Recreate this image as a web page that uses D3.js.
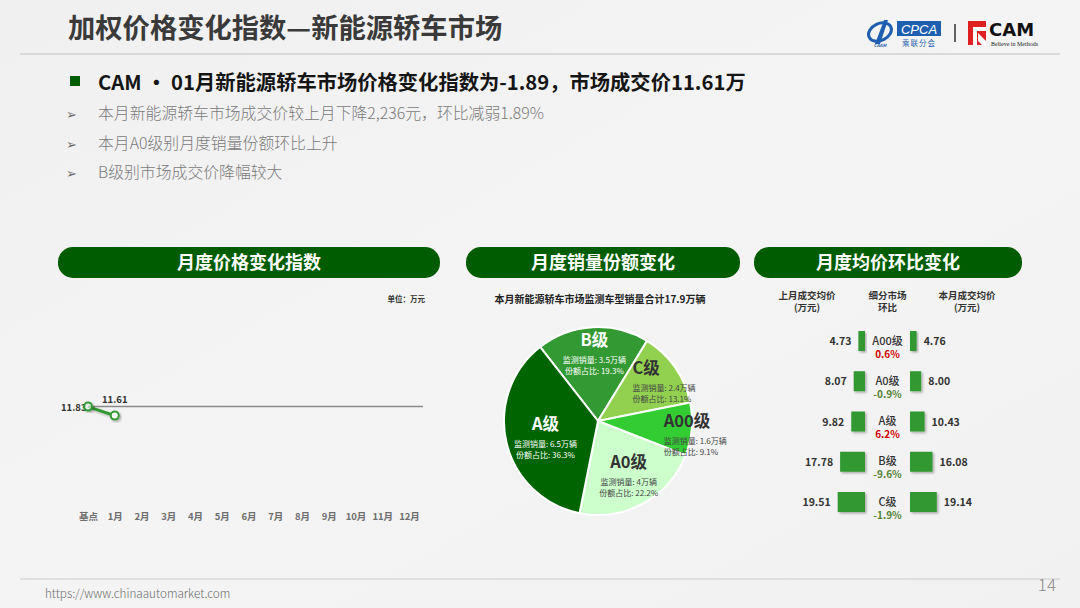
<!DOCTYPE html>
<html>
<head>
<meta charset="utf-8">
<script src="https://cdn.jsdelivr.net/npm/d3@7"></script>
<style>
  body { margin: 0; background: #f2f2f2; }
  svg { display: block; font-family: "Noto Sans CJK SC", "Noto Sans", sans-serif; }
</style>
</head>
<body>
<svg id="chart"></svg>
<script>
// ---- data ----
const months = ['基点', '1月', '2月', '3月', '4月', '5月', '6月', '7月', '8月', '9月', '10月', '11月', '12月']
const priceIndex = [11.83, 11.61]

const pieCats = ['B级', 'C级', 'A00级', 'A0级', 'A级']
const pieSales = [3.5, 2.4, 1.6, 4, 6.5]
const pieShares = [19.3, 13.1, 9.1, 22.2, 36.3]
const pieTotal = 17.9

const segCats = ['A00级', 'A0级', 'A级', 'B级', 'C级']
const lastPrice = [4.73, 8.07, 9.82, 17.78, 19.51]
const thisPrice = [4.76, 8.00, 10.43, 16.08, 19.14]
const momChange = [0.6, -0.9, 6.2, -9.6, -1.9]

const bullets = [
    '本月新能源轿车市场成交价较上月下降2,236元，环比减弱1.89%',
    '本月A0级别月度销量份额环比上升',
    'B级别市场成交价降幅较大'
]

const w = 1080
const h = 608
const green = '#339933'
const darkGreen = '#005c00'

let svg = d3.select('#chart').attr('width', w).attr('height', h)

let defs = svg.append('defs')
defs.append('filter').attr('id', 'shadow')
    .attr('x', '-30%').attr('y', '-30%').attr('width', '160%').attr('height', '160%')
    .append('feDropShadow')
    .attr('dx', 1.5).attr('dy', 1.5).attr('stdDeviation', 1)
    .attr('flood-color', '#000').attr('flood-opacity', 0.3)

let bg = defs.append('linearGradient').attr('id', 'bg')
    .attr('x1', 0).attr('y1', 0).attr('x2', 1).attr('y2', 1)
bg.append('stop').attr('offset', '0%').attr('stop-color', '#f0f0f0')
bg.append('stop').attr('offset', '50%').attr('stop-color', '#f4f4f4')
bg.append('stop').attr('offset', '100%').attr('stop-color', '#f1f1f1')

svg.append('rect').attr('width', w).attr('height', h).attr('fill', 'url(#bg)')

// ---- header ----
let drawHeader = () => {
    svg.append('text')
       .attr('x', 68).attr('y', 38)
       .attr('font-size', 27.3).attr('font-weight', 700).attr('fill', '#3a3a3a')
       .text('加权价格变化指数—新能源轿车市场')

    svg.append('line')
       .attr('x1', 20).attr('x2', 1060).attr('y1', 54).attr('y2', 54)
       .attr('stroke', '#d0d0d0').attr('stroke-width', 1.5)

    // CPCA logo
    let cpca = svg.append('g')
    cpca.append('ellipse').attr('cx', 880).attr('cy', 32).attr('rx', 12).attr('ry', 8.5)
        .attr('fill', 'none').attr('stroke', '#1f5fb0').attr('stroke-width', 3)
        .attr('transform', 'rotate(-25 880 32)')
    cpca.append('path').attr('d', 'M875,44 L884,20 L888,20 L880,44 Z').attr('fill', '#1f5fb0')
    cpca.append('text').attr('x', 880).attr('y', 47).attr('text-anchor', 'middle')
        .attr('font-size', 4.5).attr('font-style', 'italic').attr('font-weight', 700).attr('fill', '#1f5fb0').text('CAAM')
    cpca.append('rect').attr('x', 897).attr('y', 21).attr('width', 44).attr('height', 15).attr('fill', '#1f5fb0')
    cpca.append('text').attr('x', 919).attr('y', 33.5).attr('text-anchor', 'middle')
        .attr('font-family', 'Liberation Sans').attr('font-style', 'italic')
        .attr('font-size', 13).attr('fill', '#fff').text('CPCA')
    cpca.append('text').attr('x', 919).attr('y', 46).attr('text-anchor', 'middle')
        .attr('font-size', 7.5).attr('fill', '#1f5fb0').attr('letter-spacing', 1).text('乘联分会')

    svg.append('line').attr('x1', 955).attr('x2', 955).attr('y1', 24).attr('y2', 42)
       .attr('stroke', '#333').attr('stroke-width', 1.5)

    // CAM logo
    let cam = svg.append('g')
    cam.append('rect').attr('x', 968).attr('y', 21).attr('width', 18).attr('height', 24).attr('fill', '#e02020')
    cam.append('path').attr('d', 'M973,27 L986,27 L986,31 L977,31 L977,45 L973,45 Z').attr('fill', '#fff')
    cam.append('path').attr('d', 'M978,33 L986,41 L986,45 L982,45 L978,41 Z').attr('fill', '#fff')
    cam.append('text').attr('x', 989).attr('y', 36).attr('font-family', 'DejaVu Sans')
       .attr('font-weight', 700).attr('font-size', 18).attr('fill', '#111').text('CAM')
    cam.append('text').attr('x', 991).attr('y', 46).attr('font-family', 'Liberation Serif')
       .attr('font-size', 6).attr('fill', '#222').text('Believe in Methods')

    // headline
    svg.append('rect').attr('x', 70).attr('y', 76).attr('width', 10).attr('height', 10).attr('fill', darkGreen)
    svg.append('text')
       .attr('x', 98).attr('y', 90)
       .attr('font-size', 20.3).attr('font-weight', 700).attr('fill', '#151515')
       .text('CAM • 01月新能源轿车市场价格变化指数为-1.89，市场成交价11.61万')

    svg.selectAll('.bullet')
       .data(bullets)
       .enter()
       .append('g')
       .attr('class', 'bullet')
       .each(function(item, index) {
           let g = d3.select(this)
           let y = 119 + index * 29.5
           g.append('text').attr('x', 66).attr('y', y)
            .attr('font-family', 'DejaVu Sans').attr('font-size', 13).attr('fill', '#6a6a6a').text('➢')
           g.append('text').attr('x', 98).attr('y', y)
            .attr('font-size', 15.85).attr('font-weight', 300).attr('fill', '#7a7a7a').text(item)
       })

    // section pills
    let pills = [
        { x: 58, x2: 440, t: '月度价格变化指数' },
        { x: 466, x2: 740, t: '月度销量份额变化' },
        { x: 754, x2: 1022, t: '月度均价环比变化' }
    ]
    svg.selectAll('.pill')
       .data(pills)
       .enter()
       .append('g')
       .attr('class', 'pill')
       .each(function(p) {
           let g = d3.select(this)
           g.append('rect').attr('x', p.x).attr('y', 247).attr('width', p.x2 - p.x).attr('height', 31)
            .attr('rx', 15).attr('fill', darkGreen)
           g.append('text').attr('x', (p.x + p.x2) / 2).attr('y', 269).attr('text-anchor', 'middle')
            .attr('font-size', 18).attr('font-weight', 700).attr('fill', '#fff').text(p.t)
       })

    // footer
    svg.append('line').attr('x1', 20).attr('x2', 1060).attr('y1', 579).attr('y2', 579)
       .attr('stroke', '#d8d8d8').attr('stroke-width', 1.5)
    svg.append('text').attr('x', 45).attr('y', 598)
       .attr('font-size', 11.7).attr('fill', '#6a6a6a').attr('font-weight', 300)
       .text('https://www.chinaautomarket.com')
    svg.append('text').attr('x', 1056).attr('y', 591).attr('text-anchor', 'end')
       .attr('font-size', 17).attr('font-weight', 300).attr('fill', '#888').text('14')
}

// ---- chart 1: price index line ----
let drawLine = () => {
    let xScale = d3.scalePoint().domain(months).range([88, 409])
    let yScale = d3.scaleLinear().domain([9.43, 14.43]).range([505, 300])

    let g = svg.append('g')

    g.append('text').attr('x', 425).attr('y', 302).attr('text-anchor', 'end')
     .attr('font-size', 7.5).attr('font-weight', 700).attr('fill', '#333').text('单位：万元')

    let xAxis = d3.axisBottom(xScale).tickSize(0).tickPadding(0)
    g.append('g')
     .attr('transform', 'translate(0, 513)')
     .call(xAxis)
     .call(a => a.select('.domain').remove())
     .selectAll('text')
     .attr('font-family', '"Noto Sans CJK SC", sans-serif')
     .attr('font-size', 9.5).attr('font-weight', 700).attr('fill', '#6e6e6e')

    g.append('line')
     .attr('x1', xScale(months[0])).attr('x2', xScale(months[months.length - 1]) + 14)
     .attr('y1', yScale(priceIndex[0])).attr('y2', yScale(priceIndex[0]))
     .attr('stroke', '#8a8a8a').attr('stroke-width', 1.5)

    let line = d3.line()
                 .x((d, i) => xScale(months[i]))
                 .y(d => yScale(d))
    g.append('path')
     .datum(priceIndex)
     .attr('d', line)
     .attr('fill', 'none').attr('stroke', green).attr('stroke-width', 3)
     .attr('filter', 'url(#shadow)')

    g.selectAll('.vlab')
     .data(priceIndex)
     .enter()
     .append('text')
     .attr('class', 'vlab')
     .attr('x', (d, i) => i === 0 ? xScale(months[i]) - 1.5 : xScale(months[i]))
     .attr('y', (d, i) => i === 0 ? yScale(d) + 4 : yScale(d) - 13)
     .attr('text-anchor', (d, i) => i === 0 ? 'end' : 'middle')
     .attr('font-size', 9.5).attr('font-weight', 700).attr('fill', '#333')
     .text(d => d.toFixed(2))

    g.selectAll('circle')
     .data(priceIndex)
     .enter()
     .append('circle')
     .attr('cx', (d, i) => xScale(months[i]))
     .attr('cy', d => yScale(d))
     .attr('r', 4)
     .attr('fill', '#fff').attr('fill-opacity', (d, i) => i === 0 ? 0.6 : 1)
     .attr('stroke', green).attr('stroke-width', 2)
     .attr('filter', 'url(#shadow)')
}

// ---- chart 2: share pie ----
let drawPie = () => {
    let cx = 598, cy = 421, r = 94
    let colors = d3.scaleOrdinal()
                   .domain(pieCats)
                   .range(['#339933', '#92d050', '#33cc33', '#ccffcc', '#006400'])
    let darkSlices = ['B级', 'A级']
    let leftAligned = ['C级', 'A00级']
    // label radius and nudge per slice
    let labelR = { 'B级': 64, 'C级': 64, 'A00级': 84, 'A0级': 64, 'A级': 54 }
    let labelDy = { 'B级': -3, 'C级': -2, 'A00级': 7, 'A0级': -1, 'A级': 5 }

    svg.append('text').attr('x', 600).attr('y', 303).attr('text-anchor', 'middle')
       .attr('font-size', 10).attr('font-weight', 700).attr('fill', '#222')
       .text('本月新能源轿车市场监测车型销量合计' + pieTotal + '万辆')

    let slices = pieCats.map((c, i) => ({ cat: c, sales: pieSales[i], share: pieShares[i] }))
    let start = -38 * Math.PI / 180
    let pie = d3.pie().sort(null).value(d => d.share).startAngle(start).endAngle(start + 2 * Math.PI)
    let arc = d3.arc().innerRadius(0).outerRadius(r)

    let g = svg.append('g').attr('transform', `translate(${cx}, ${cy})`)
    let arcs = pie(slices)

    g.selectAll('path')
     .data(arcs)
     .enter()
     .append('path')
     .attr('d', arc)
     .attr('fill', d => colors(d.data.cat))
     .attr('stroke', '#fff').attr('stroke-width', 2)

    let labels = g.selectAll('.plab')
                  .data(arcs)
                  .enter()
                  .append('g')
                  .attr('class', 'plab')
                  .attr('transform', d => {
                      let lr = labelR[d.data.cat]
                      let c = d3.arc().innerRadius(lr).outerRadius(lr).centroid(d)
                      return `translate(${c[0]}, ${c[1] + labelDy[d.data.cat]})`
                  })
    labels.each(function(d) {
        let lg = d3.select(this)
        let dark = darkSlices.includes(d.data.cat)
        let left = leftAligned.includes(d.data.cat)
        let anchor = left ? 'start' : 'middle'
        let x0 = left ? -18 : 0
        lg.append('text').attr('x', x0).attr('y', -8).attr('text-anchor', anchor)
          .attr('font-size', 16.5).attr('font-weight', 700).attr('fill', dark ? '#fff' : '#333')
          .text(d.data.cat)
        lg.append('text').attr('x', x0).attr('y', 8.5).attr('text-anchor', anchor)
          .attr('font-size', 8).attr('fill', dark ? '#fff' : '#444')
          .text('监测销量: ' + d.data.sales + '万辆')
        lg.append('text').attr('x', x0).attr('y', 20).attr('text-anchor', anchor)
          .attr('font-size', 8).attr('fill', dark ? '#fff' : '#444')
          .text('份额占比: ' + d.data.share + '%')
    })
}

// ---- chart 3: average price comparison ----
let drawCompare = () => {
    let rowY = d3.scalePoint().domain(segCats).range([341, 502])
    let barW = d3.scaleLinear().domain([0, 20]).range([0, 28])
    let leftEdge = 865, rightEdge = 910, mid = 887.5, bh = 20

    let heads = [
        { x: 807, a: '上月成交均价', b: '(万元)' },
        { x: mid, a: '细分市场', b: '环比' },
        { x: 967, a: '本月成交均价', b: '(万元)' }
    ]
    heads.forEach(hd => {
        svg.append('text').attr('x', hd.x).attr('y', 299).attr('text-anchor', 'middle')
           .attr('font-size', 9.5).attr('font-weight', 700).attr('fill', '#333').text(hd.a)
        svg.append('text').attr('x', hd.x).attr('y', 311).attr('text-anchor', 'middle')
           .attr('font-size', 9.5).attr('font-weight', 700).attr('fill', '#333').text(hd.b)
    })

    let rows = segCats.map((c, i) => ({ cat: c, last: lastPrice[i], now: thisPrice[i], mom: momChange[i] }))
    let g = svg.append('g')

    g.selectAll('.lbar')
     .data(rows)
     .enter()
     .append('rect')
     .attr('class', 'lbar')
     .attr('x', d => leftEdge - barW(d.last))
     .attr('y', d => rowY(d.cat) - bh / 2)
     .attr('width', d => barW(d.last))
     .attr('height', bh)
     .attr('fill', green)
     .attr('filter', 'url(#shadow)')

    g.selectAll('.rbar')
     .data(rows)
     .enter()
     .append('rect')
     .attr('class', 'rbar')
     .attr('x', rightEdge)
     .attr('y', d => rowY(d.cat) - bh / 2)
     .attr('width', d => barW(d.now))
     .attr('height', bh)
     .attr('fill', green)
     .attr('filter', 'url(#shadow)')

    g.selectAll('.lval')
     .data(rows)
     .enter()
     .append('text')
     .attr('x', d => leftEdge - barW(d.last) - 7)
     .attr('y', d => rowY(d.cat) + 4)
     .attr('text-anchor', 'end')
     .attr('font-size', 10.5).attr('font-weight', 700).attr('fill', '#333')
     .text(d => d.last.toFixed(2))

    g.selectAll('.rval')
     .data(rows)
     .enter()
     .append('text')
     .attr('x', d => rightEdge + barW(d.now) + 7)
     .attr('y', d => rowY(d.cat) + 4)
     .attr('font-size', 10.5).attr('font-weight', 700).attr('fill', '#333')
     .text(d => d.now.toFixed(2))

    g.selectAll('.cat')
     .data(rows)
     .enter()
     .append('text')
     .attr('x', mid)
     .attr('y', d => rowY(d.cat) + 3.5)
     .attr('text-anchor', 'middle')
     .attr('font-size', 11).attr('font-weight', 500).attr('fill', '#333')
     .text(d => d.cat)

    g.selectAll('.mom')
     .data(rows)
     .enter()
     .append('text')
     .attr('x', mid)
     .attr('y', d => rowY(d.cat) + 16.5)
     .attr('text-anchor', 'middle')
     .attr('font-size', 10).attr('font-weight', 700)
     .attr('fill', d => d.mom >= 0 ? '#d00000' : '#548235')
     .text(d => d.mom.toFixed(1) + '%')
}

drawHeader()
drawLine()
drawPie()
drawCompare()
</script>
</body>
</html>
